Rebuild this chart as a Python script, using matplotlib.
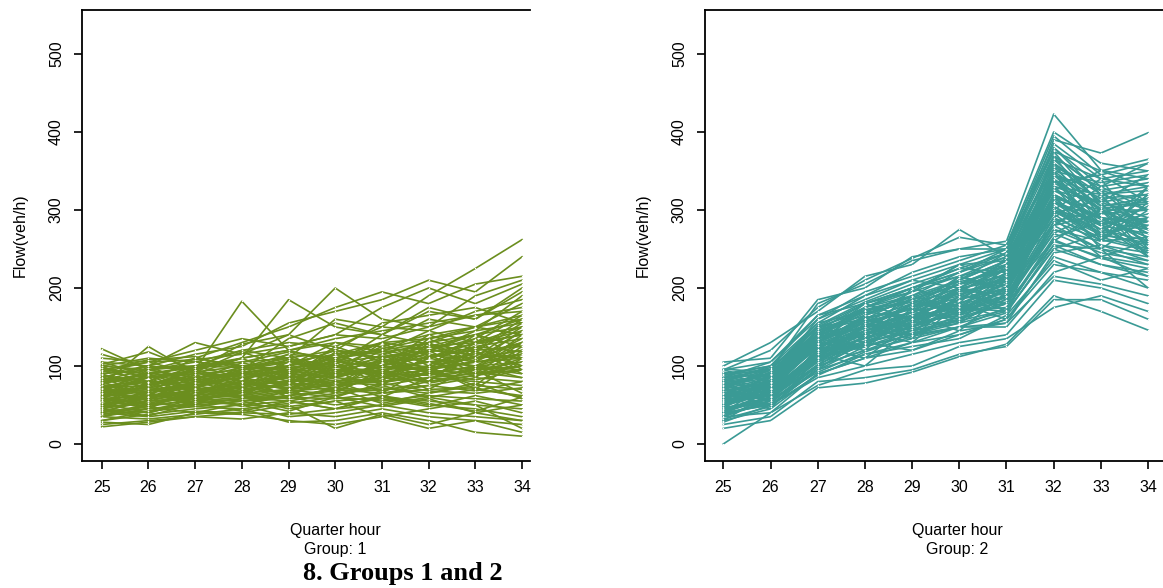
import numpy as np
import matplotlib.pyplot as plt

# quarter-hour index on the x axis
hours = [25, 26, 27, 28, 29, 30, 31, 32, 33, 34]

# group 1 flow profiles (veh/h), one row per detector-day
group1 = [
    [62, 70, 75, 80, 85, 92, 98, 105, 110, 115],
    [45, 55, 60, 62, 70, 75, 80, 85, 90, 95],
    [80, 85, 90, 95, 100, 110, 118, 125, 130, 140],
    [55, 60, 68, 72, 65, 80, 90, 88, 95, 100],
    [95, 90, 98, 105, 110, 120, 115, 130, 140, 150],
    [35, 45, 50, 55, 60, 58, 65, 70, 72, 60],
    [70, 65, 80, 75, 90, 85, 100, 95, 105, 110],
    [50, 58, 62, 70, 75, 82, 78, 90, 100, 105],
    [85, 78, 85, 92, 98, 105, 112, 120, 115, 130],
    [40, 50, 55, 60, 55, 65, 70, 75, 68, 80],
    [105, 100, 95, 110, 120, 130, 125, 140, 150, 160],
    [60, 68, 72, 65, 80, 90, 95, 100, 110, 120],
    [30, 38, 45, 50, 48, 55, 60, 55, 50, 45],
    [75, 80, 78, 85, 95, 100, 105, 110, 125, 135],
    [65, 72, 70, 78, 72, 85, 80, 92, 98, 90],
    [48, 52, 65, 60, 68, 72, 85, 80, 88, 95],
    [90, 95, 100, 98, 115, 110, 130, 135, 145, 155],
    [55, 48, 58, 65, 70, 62, 75, 85, 80, 75],
    [72, 75, 85, 90, 85, 95, 90, 100, 95, 105],
    [42, 45, 52, 58, 62, 68, 72, 65, 75, 70],
    [110, 105, 108, 115, 125, 140, 135, 150, 165, 170],
    [58, 62, 58, 68, 78, 75, 88, 95, 90, 100],
    [25, 30, 35, 40, 38, 45, 50, 40, 35, 30],
    [68, 72, 82, 88, 92, 105, 100, 112, 120, 125],
    [82, 88, 92, 100, 105, 98, 110, 118, 128, 140],
    [52, 58, 70, 75, 80, 88, 92, 98, 105, 115],
    [38, 42, 48, 45, 52, 60, 55, 62, 58, 55],
    [100, 95, 105, 100, 95, 115, 120, 110, 130, 145],
    [64, 60, 65, 72, 82, 78, 85, 90, 100, 95],
    [46, 55, 58, 55, 62, 70, 65, 75, 85, 80],
    [122, 95, 85, 90, 100, 120, 110, 125, 140, 160],
    [60, 75, 95, 183, 120, 105, 130, 160, 150, 180],
    [75, 125, 90, 110, 185, 150, 140, 170, 160, 200],
    [85, 100, 130, 115, 140, 200, 160, 150, 190, 210],
    [70, 80, 110, 130, 150, 175, 195, 180, 205, 215],
    [90, 100, 115, 125, 155, 170, 185, 210, 195, 240],
    [80, 90, 100, 120, 110, 160, 150, 190, 225, 262],
    [95, 105, 120, 135, 125, 140, 175, 200, 180, 205],
    [22, 28, 35, 32, 40, 35, 45, 35, 30, 25],
    [28, 25, 40, 38, 30, 25, 35, 20, 30, 15],
    [35, 32, 38, 45, 28, 30, 40, 30, 15, 10],
    [40, 35, 42, 40, 50, 20, 38, 25, 40, 30],
    [50, 60, 70, 60, 45, 55, 35, 45, 55, 40],
    [65, 70, 60, 50, 55, 45, 60, 50, 45, 35],
    [45, 40, 55, 50, 35, 40, 50, 60, 50, 20],
    [100, 110, 105, 120, 130, 125, 150, 145, 170, 185],
    [78, 85, 95, 110, 120, 135, 145, 155, 165, 175],
    [55, 65, 75, 85, 95, 110, 120, 130, 150, 165],
    [88, 80, 75, 85, 90, 95, 105, 115, 110, 120],
    [58, 50, 62, 80, 70, 88, 95, 105, 115, 110],
    [70, 55, 90, 60, 100, 70, 110, 80, 120, 90],
    [90, 70, 60, 95, 70, 105, 75, 115, 85, 125],
    [50, 80, 55, 85, 60, 95, 65, 100, 70, 110],
    [100, 75, 85, 70, 110, 90, 130, 100, 140, 110],
    [40, 60, 80, 65, 90, 70, 105, 120, 90, 130],
    [80, 60, 70, 100, 80, 115, 95, 80, 125, 100],
    [60, 90, 70, 60, 95, 110, 80, 130, 105, 145],
    [75, 50, 65, 85, 60, 90, 120, 95, 75, 120],
    [55, 75, 95, 80, 70, 100, 85, 110, 135, 95],
    [85, 100, 75, 90, 115, 85, 100, 140, 120, 160],
    [45, 65, 50, 75, 85, 65, 95, 70, 100, 85],
    [95, 80, 100, 110, 85, 125, 105, 130, 95, 140],
    [65, 85, 60, 70, 100, 120, 110, 90, 130, 150],
    [35, 50, 62, 48, 70, 80, 60, 85, 95, 65],
    [78, 92, 82, 104, 92, 98, 125, 115, 105, 135],
    [48, 68, 78, 92, 75, 110, 100, 120, 140, 125],
    [88, 72, 95, 80, 105, 95, 90, 125, 112, 150],
    [58, 45, 72, 88, 95, 85, 115, 105, 90, 110],
    [72, 88, 65, 75, 80, 100, 85, 95, 118, 100],
    [105, 88, 80, 95, 105, 115, 130, 120, 135, 170],
    [42, 55, 68, 80, 88, 75, 82, 110, 100, 130],
    [62, 78, 88, 70, 78, 92, 108, 98, 125, 118],
    [92, 105, 90, 88, 100, 130, 118, 145, 130, 165],
    [52, 40, 55, 68, 58, 72, 68, 80, 92, 85],
    [68, 58, 78, 95, 108, 88, 100, 88, 108, 145],
    [82, 95, 110, 100, 90, 108, 95, 105, 100, 115],
    [30, 42, 58, 62, 78, 68, 90, 78, 88, 100],
    [98, 85, 92, 118, 98, 102, 140, 128, 118, 155],
    [56, 66, 52, 58, 66, 60, 78, 68, 65, 72],
    [76, 66, 100, 85, 75, 118, 90, 135, 110, 130],
    [115, 98, 100, 105, 118, 110, 122, 135, 150, 140],
    [38, 48, 40, 52, 60, 50, 58, 48, 62, 50],
    [86, 60, 75, 65, 88, 78, 105, 92, 82, 95],
    [66, 95, 85, 98, 110, 100, 92, 118, 145, 190],
    [48, 62, 92, 75, 65, 80, 75, 60, 70, 62],
    [102, 118, 95, 128, 140, 120, 155, 165, 175, 155],
    [60, 52, 48, 55, 42, 60, 48, 58, 40, 50],
    [72, 80, 72, 62, 58, 72, 52, 65, 78, 58],
    [44, 36, 52, 42, 55, 45, 62, 52, 42, 60],
    [94, 108, 112, 95, 135, 155, 140, 175, 160, 195],
]

# group 2 flow profiles (veh/h)
group2 = [
    [60, 75, 125, 150, 165, 185, 205, 310, 280, 270],
    [45, 60, 105, 130, 145, 160, 180, 280, 250, 240],
    [75, 90, 140, 170, 185, 205, 225, 340, 300, 300],
    [35, 55, 100, 120, 135, 150, 175, 260, 240, 230],
    [85, 95, 150, 180, 200, 220, 240, 360, 320, 330],
    [55, 70, 115, 145, 160, 175, 195, 300, 270, 255],
    [65, 80, 130, 155, 175, 190, 215, 320, 290, 285],
    [50, 65, 120, 135, 150, 170, 190, 290, 265, 250],
    [70, 85, 135, 160, 180, 200, 210, 330, 310, 290],
    [40, 50, 95, 125, 140, 155, 170, 250, 230, 220],
    [90, 100, 155, 190, 210, 230, 250, 380, 330, 340],
    [58, 72, 128, 140, 170, 180, 200, 300, 285, 275],
    [48, 68, 110, 150, 155, 165, 185, 275, 260, 265],
    [78, 88, 145, 165, 195, 215, 230, 350, 305, 310],
    [62, 78, 122, 158, 168, 195, 208, 315, 275, 260],
    [30, 45, 90, 110, 130, 140, 160, 240, 220, 210],
    [82, 98, 148, 175, 190, 210, 235, 345, 315, 320],
    [52, 62, 118, 128, 158, 172, 198, 295, 255, 245],
    [68, 82, 132, 162, 172, 198, 218, 325, 295, 300],
    [42, 58, 108, 138, 148, 162, 182, 270, 245, 235],
    [95, 105, 160, 195, 215, 235, 255, 385, 340, 350],
    [72, 90, 138, 168, 182, 205, 228, 335, 300, 285],
    [56, 70, 125, 145, 165, 185, 200, 305, 270, 280],
    [38, 52, 100, 120, 142, 158, 172, 262, 238, 225],
    [64, 76, 128, 152, 178, 192, 212, 318, 288, 265],
    [88, 96, 152, 182, 205, 225, 245, 370, 325, 335],
    [46, 60, 112, 132, 152, 168, 188, 285, 262, 248],
    [74, 86, 142, 172, 188, 208, 222, 338, 302, 308],
    [54, 66, 120, 142, 162, 178, 195, 298, 268, 258],
    [60, 74, 126, 148, 170, 188, 210, 312, 282, 290],
    [0, 40, 90, 110, 120, 140, 160, 230, 220, 200],
    [105, 110, 185, 200, 240, 250, 260, 423, 351, 340],
    [100, 130, 170, 215, 230, 275, 240, 390, 373, 399],
    [20, 30, 72, 78, 92, 112, 128, 190, 170, 146],
    [25, 35, 80, 85, 95, 115, 125, 185, 185, 160],
    [80, 95, 180, 205, 235, 250, 250, 395, 345, 360],
    [35, 40, 75, 95, 100, 125, 135, 175, 190, 170],
    [95, 120, 175, 210, 238, 265, 255, 400, 360, 350],
    [28, 50, 85, 100, 115, 130, 140, 210, 200, 180],
    [50, 65, 110, 125, 140, 150, 155, 215, 205, 190],
    [85, 105, 165, 190, 220, 240, 250, 375, 350, 365],
    [65, 85, 140, 175, 200, 220, 245, 360, 310, 320],
    [45, 55, 95, 115, 130, 150, 150, 220, 240, 215],
    [72, 92, 145, 180, 195, 230, 235, 350, 335, 345],
    [40, 60, 110, 130, 145, 175, 180, 255, 250, 200],
    [58, 78, 130, 160, 175, 205, 230, 345, 325, 310],
    [68, 80, 135, 150, 180, 200, 225, 330, 320, 325],
    [52, 70, 118, 140, 160, 180, 200, 310, 290, 280],
    [76, 90, 145, 170, 185, 210, 235, 365, 340, 330],
    [44, 58, 102, 128, 150, 170, 190, 270, 300, 275],
    [70, 55, 115, 165, 140, 200, 170, 350, 260, 310],
    [40, 80, 130, 120, 175, 155, 220, 280, 320, 250],
    [85, 60, 100, 160, 150, 190, 180, 320, 250, 290],
    [55, 90, 145, 130, 190, 170, 230, 300, 340, 260],
    [30, 65, 120, 145, 130, 180, 160, 340, 280, 330],
    [65, 50, 95, 140, 165, 145, 195, 260, 300, 240],
    [90, 75, 135, 180, 160, 215, 200, 370, 290, 280],
    [45, 85, 125, 110, 155, 200, 185, 310, 270, 320],
    [75, 65, 150, 135, 200, 180, 240, 330, 280, 240],
    [50, 75, 105, 155, 140, 165, 210, 290, 330, 300],
    [80, 100, 120, 165, 185, 170, 200, 355, 300, 270],
    [35, 60, 115, 100, 150, 175, 170, 250, 270, 285],
    [60, 45, 110, 150, 135, 190, 215, 325, 310, 240],
    [95, 80, 140, 125, 170, 200, 190, 300, 260, 300],
    [70, 95, 155, 170, 160, 210, 245, 380, 320, 300],
    [40, 50, 88, 115, 125, 135, 165, 235, 210, 225],
    [55, 70, 140, 155, 185, 165, 200, 345, 290, 260],
    [85, 90, 130, 175, 195, 230, 210, 335, 345, 310],
    [62, 58, 118, 135, 160, 195, 225, 305, 260, 330],
    [48, 72, 105, 145, 170, 160, 180, 285, 300, 270],
    [78, 70, 125, 140, 155, 180, 205, 360, 280, 295],
    [58, 88, 150, 160, 145, 175, 190, 280, 295, 315],
    [32, 48, 98, 130, 120, 145, 155, 245, 255, 235],
    [92, 85, 160, 185, 210, 200, 235, 365, 310, 345],
    [66, 62, 112, 150, 175, 215, 195, 315, 300, 255],
    [50, 80, 135, 125, 165, 185, 220, 330, 265, 290],
    [72, 55, 120, 160, 190, 175, 215, 295, 315, 275],
    [38, 70, 115, 135, 160, 170, 175, 265, 285, 250],
    [82, 72, 140, 155, 175, 195, 230, 340, 270, 320],
    [60, 68, 108, 130, 155, 165, 185, 275, 250, 230],
    [88, 100, 165, 180, 200, 215, 240, 355, 330, 360],
    [46, 52, 125, 145, 140, 160, 200, 320, 290, 265],
    [74, 95, 130, 165, 185, 205, 215, 300, 275, 305],
    [54, 62, 100, 140, 160, 195, 205, 345, 305, 285],
    [68, 78, 145, 160, 150, 185, 225, 370, 325, 275],
    [42, 66, 118, 125, 145, 155, 190, 290, 240, 260],
    [80, 88, 128, 175, 200, 225, 220, 325, 350, 330],
    [56, 82, 138, 150, 180, 170, 210, 310, 280, 245],
    [96, 92, 150, 170, 190, 220, 250, 375, 305, 315],
    [36, 56, 92, 118, 138, 150, 168, 255, 230, 215],
]

yticks = [0, 100, 200, 300, 400, 500]

W, H = 1163, 588
plt.rcParams['font.family'] = ['Liberation Sans', 'DejaVu Sans']
fig = plt.figure(figsize=(W / 100, H / 100), dpi=100)


def px(x, y):
    return x / W, 1 - y / H


def panel(left, right, xlo, xhi, rows, col, group, xlab_x, ylab_x):
    ax = fig.add_axes([left / W, (H - 461) / H, (right - left) / W, (461 - 10) / H])
    data = np.array(rows)
    for r in data:
        ax.plot(hours, r, color=col, lw=1.2, zorder=2)
    # type="b" style gaps at the vertices
    xs = np.tile(hours, len(data))
    ax.scatter(xs, data.ravel(), s=1.0, color='white', lw=0, zorder=3)
    ax.set_xlim(xlo, xhi)
    ax.set_ylim(-21.8, 556.4)
    ax.set_xticks(hours)
    ax.set_yticks(yticks)
    ax.spines['right'].set_visible(False)
    for s in ['left', 'top', 'bottom']:
        ax.spines[s].set_linewidth(1.3)
    ax.tick_params(direction='out', length=6, width=1.2, labelsize=11.5, colors='black')
    ax.tick_params(axis='x', pad=8)
    ax.tick_params(axis='y', pad=7)
    for lab in ax.get_yticklabels():
        lab.set_rotation(90)
        lab.set_verticalalignment('center')
    fig.text(*px(xlab_x, 535), 'Quarter hour', ha='center', va='baseline', fontsize=11.5)
    fig.text(*px(xlab_x, 554), 'Group: %d' % group, ha='center', va='baseline', fontsize=11.5)
    fig.text(*px(ylab_x, 235), 'Flow(veh/h)', ha='center', va='center', rotation=90, fontsize=11.5)
    return ax


panel(82, 530, 24.578, 34.171, group1, '#6b8e1e', 1, 335, 20)
panel(705, 1163, 24.612, 34.316, group2, '#3a9a95', 2, 957, 643)

fig.text(*px(403, 580), '8. Groups 1 and 2', ha='center', va='baseline',
         fontsize=19, fontweight='bold', family=['Liberation Serif', 'DejaVu Serif'])

fig.savefig('out.png', dpi=100)
